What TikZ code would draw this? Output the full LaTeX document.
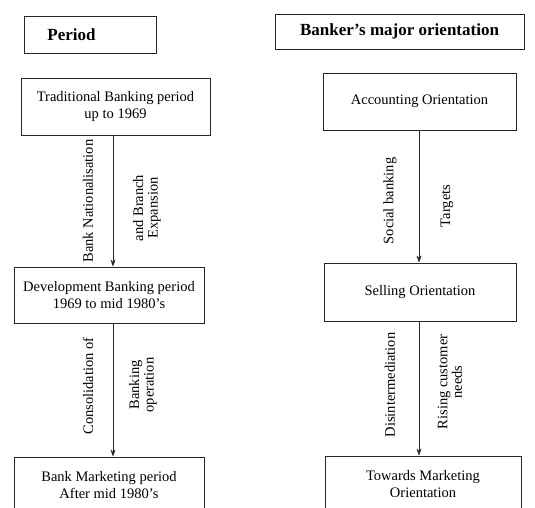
\documentclass[tikz,border=0pt]{standalone}
\usepackage{fontspec}
\setmainfont{Liberation Serif}
\usetikzlibrary{arrows.meta}
\begin{document}
\begin{tikzpicture}[x=1pt,y=-1pt,
  box/.style={draw=black!85,line width=0.9pt,rectangle,inner sep=0pt,align=center,
    font=\fontsize{14.5}{17}\selectfont},
  head/.style={box,font=\fontsize{17}{19}\selectfont\bfseries},
  arr/.style={draw=black!85,line width=0.6pt,-{Stealth[length=7pt,width=5pt]}},
  lab/.style={rotate=90,align=center,inner sep=0pt,font=\fontsize{14.5}{14.5}\selectfont}]
\clip (0,0) rectangle (535,507);
\fill[white] (0,0) rectangle (535,507);
% headers
\node[head,minimum width=132pt,minimum height=37pt] (period) at (90,34.5) {\hspace*{-37pt}Period};
\node[head,minimum width=249pt,minimum height=35pt] (banker) at (399.5,31.5) {Banker's major orientation};
% left column
\node[box,minimum width=189pt,minimum height=57pt] (trad) at (115.5,106.5) {Traditional Banking period\\up to 1969};
\node[box,minimum width=190pt,minimum height=56pt] (dev) at (109,295) {Development Banking period\\1969 to mid 1980's};
\node[box,minimum width=190pt,minimum height=57pt] (mkt) at (109,485.5) {Bank Marketing period\\After mid 1980's};
% right column
\node[box,minimum width=193pt,minimum height=57pt] (acc) at (419.5,101.5) {Accounting Orientation};
\node[box,minimum width=192pt,minimum height=58pt] (sell) at (420,292) {Selling Orientation};
\node[box,minimum width=196pt,minimum height=57pt] (tow) at (423,484.5) {Towards Marketing\\Orientation};
% arrow columns
\coordinate (lx) at (113,0);
\coordinate (rx) at (419,0);
\draw[arr] (trad.south -| lx) -- (dev.north -| lx);
\draw[arr] (dev.south -| lx) -- (mkt.north -| lx);
\draw[arr] (acc.south -| rx) -- (sell.north -| rx);
\draw[arr] (sell.south -| rx) -- (tow.north -| rx);
% labels
\node[lab] (l1) at (88,201) {Bank Nationalisation};
\node[lab] (l2) at (147,208) {and Branch\\Expansion};
\node[lab] (l3) at (88,386) {Consolidation of};
\node[lab] (l4) at (143,385) {Banking\\operation};
\node[lab] (r1) at (390,201) {Social banking};
\node[lab] (r2) at (447,206) {Targets};
\node[lab] (r3) at (390,385) {Disintermediation};
\node[lab] (r4) at (450,382) {Rising customer\\needs};
\end{tikzpicture}
\end{document}
